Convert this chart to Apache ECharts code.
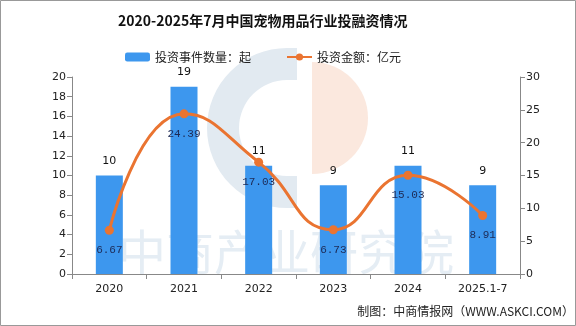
<!DOCTYPE html>
<html><head><meta charset="utf-8">
<script src="https://cdn.jsdelivr.net/npm/echarts@6/dist/echarts.min.js"></script>
<style>html,body{margin:0;padding:0;background:#fff}#c{width:576px;height:326px}</style>
</head><body><div id="c"></div>
<script>
const categories = ['2020','2021','2022','2023','2024','2025.1-7'];
const eventCounts = [10,19,11,9,11,9];
const amounts = [6.67,24.39,17.03,6.73,15.03,8.91];
const leftTicks = {min:0,max:20,interval:2};
const rightTicks = {min:0,max:30,interval:5};

const chart = echarts.init(document.getElementById('c'));
const font = '"DejaVu Sans", sans-serif';
chart.setOption({
  animation:false,
  backgroundColor:'#fff',
  title:{text:'2020-2025年7月中国宠物用品行业投融资情况',left:113,top:9,
    textStyle:{fontSize:14,fontWeight:'bold',color:'#111',fontFamily:'"Noto Sans CJK SC", sans-serif'}},
  legend:{top:46,left:120,itemWidth:25,itemHeight:9,itemGap:35,
    textStyle:{fontSize:12,color:'#222',fontFamily:'"Noto Sans CJK SC", sans-serif'},
    data:['投资事件数量：起','投资金额：亿元']},
  grid:{left:72,right:56,top:77,bottom:52},
  graphic:[
    {type:'sector',z:-5,shape:{cx:287,cy:128,r:80,r0:48,startAngle:Math.PI/2,endAngle:Math.PI*1.5},style:{fill:'#e2eaf1'}},
    {type:'rect',z:-5,shape:{x:286,y:48,width:11,height:32},style:{fill:'#e2eaf1'}},
    {type:'rect',z:-5,shape:{x:286,y:176,width:11,height:32},style:{fill:'#e2eaf1'}},
    {type:'sector',z:-5,shape:{cx:312,cy:118,r:56,r0:0,startAngle:-Math.PI/2,endAngle:Math.PI/2},style:{fill:'#fbe8de'}},
    {type:'text',z:-4,left:118,top:228,style:{text:'中商产业研究院',font:'48px "Noto Sans CJK SC", sans-serif',fill:'#e5edf4'}},
    {type:'text',right:2,top:305,style:{text:'制图：中商情报网（WWW.ASKCI.COM）',font:'12px "Noto Sans CJK SC", sans-serif',fill:'#222'}},
    {type:'rect',z:10,shape:{x:0.5,y:0.5,width:575,height:325},style:{fill:'none',stroke:'#999',lineWidth:1}}
  ],
  xAxis:{type:'category',data:categories,boundaryGap:true,
    axisLine:{lineStyle:{color:'#888'}},axisTick:{show:true,lineStyle:{color:'#888'}},
    axisLabel:{fontSize:11,color:'#222',fontFamily:font,margin:10}},
  yAxis:[
    {type:'value',min:leftTicks.min,max:leftTicks.max,interval:leftTicks.interval,
     axisLine:{show:true,lineStyle:{color:'#888'}},axisTick:{show:true,lineStyle:{color:'#888'}},
     splitLine:{show:false},axisLabel:{fontSize:11,color:'#222',fontFamily:font,margin:6}},
    {type:'value',min:rightTicks.min,max:rightTicks.max,interval:rightTicks.interval,position:'right',
     axisLine:{show:true,lineStyle:{color:'#888'}},axisTick:{show:true,lineStyle:{color:'#888'}},
     splitLine:{show:false},axisLabel:{fontSize:11,color:'#222',fontFamily:font,margin:6}}
  ],
  series:[
    {name:'投资事件数量：起',type:'bar',data:eventCounts,barWidth:27,yAxisIndex:0,
     itemStyle:{color:'#3d97ee'},
     label:{show:true,position:'top',distance:9,fontSize:11,color:'#111',fontFamily:font}},
    {name:'投资金额：亿元',type:'line',data:amounts,yAxisIndex:1,smooth:true,
     symbol:'circle',symbolSize:9,
     lineStyle:{color:'#ea7431',width:3},itemStyle:{color:'#ea7431'},
     label:{show:true,position:'bottom',distance:10,fontSize:11,color:'#1d2a55',fontFamily:'"Liberation Mono", monospace'}}
  ]
});
</script></body></html>
